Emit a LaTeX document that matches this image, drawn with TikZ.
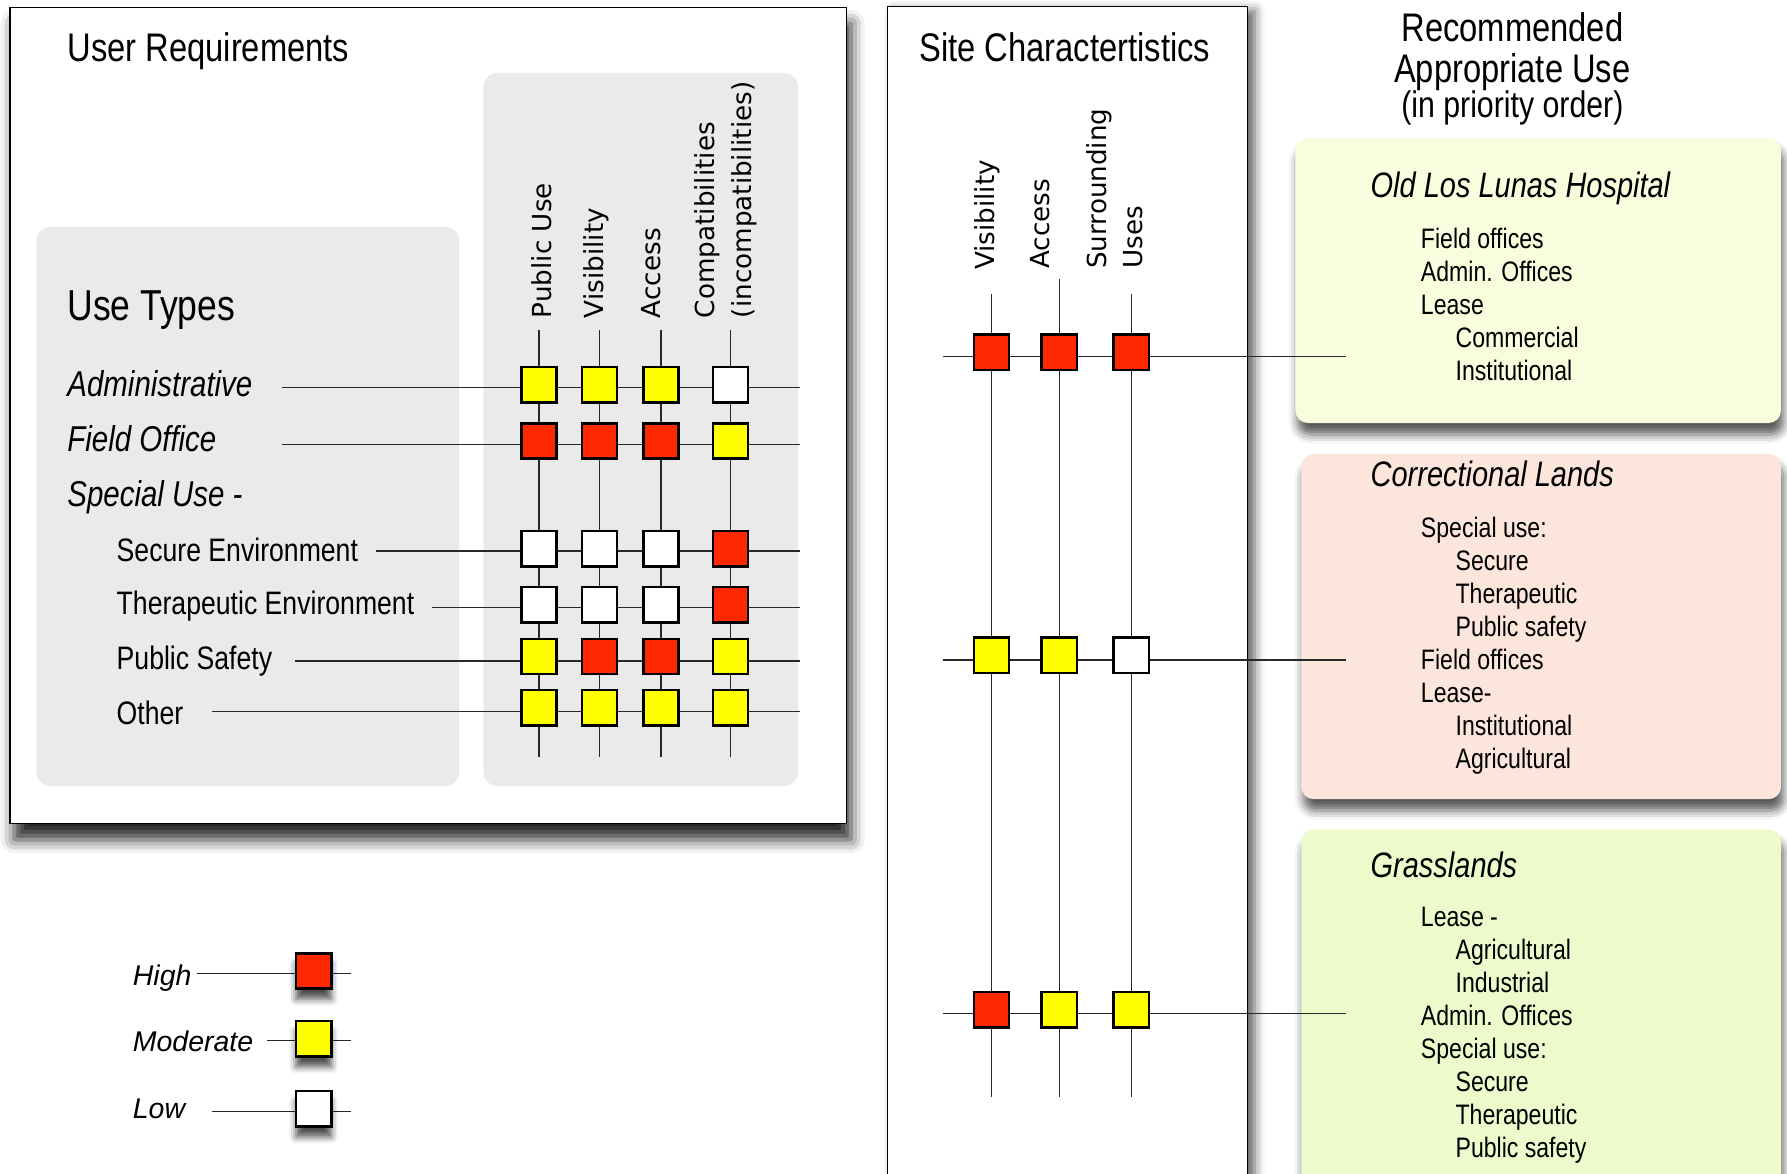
\documentclass[tikz,border=0pt]{standalone}
\usepackage{fontspec}
\setmainfont[FakeStretch=0.82]{Liberation Sans}
\newfontfamily\widefont{DejaVu Sans}
\newfontfamily\legfont{Liberation Sans}
\usetikzlibrary{shadows.blur}
\definecolor{hired}{RGB}{255,40,0}
\definecolor{moyel}{RGB}{255,255,0}
\definecolor{panelgray}{RGB}{234,234,234}
\definecolor{recA}{RGB}{250,252,222}
\definecolor{recB}{RGB}{252,230,219}
\definecolor{recC}{RGB}{237,250,203}
\definecolor{linec}{RGB}{40,40,40}
\begin{document}
\begin{tikzpicture}[x=1pt,y=-1pt,
  bigbox/.style={draw=black, line width=1.3pt, fill=white, inner sep=0pt, anchor=north west},
  panel/.style={fill=panelgray, rounded corners=12pt, inner sep=0pt, anchor=north west},
  recbox/.style={rounded corners=11pt, inner sep=0pt, anchor=north west,
     blur shadow={shadow xshift=2pt, shadow yshift=-10pt, shadow blur radius=8pt, shadow opacity=65}},
  sqbox/.style={draw=black, line width=2.2pt, minimum width=31pt, minimum height=31pt, inner sep=0pt},
  lvlhi/.style={sqbox, fill=hired},
  lvlmo/.style={sqbox, fill=moyel},
  lvllo/.style={sqbox, fill=white},
  legsq/.style={blur shadow={shadow xshift=0pt, shadow yshift=-9pt, shadow blur radius=6pt, shadow opacity=70}},
  conn/.style={draw=linec, line width=1.1pt},
  ttl/.style={font={\fontsize{35}{42}\selectfont}, anchor=base west, inner sep=0pt},
  uttl/.style={font={\fontsize{38}{44}\selectfont}, anchor=base west, inner sep=0pt},
  hdr/.style={font={\fontsize{35}{42}\selectfont}, anchor=base, inner sep=0pt},
  rowit/.style={font={\itshape\fontsize{31.5}{37}\selectfont}, anchor=base west, inner sep=0pt},
  rowrg/.style={font={\fontsize{28.5}{34}\selectfont}, anchor=base west, inner sep=0pt},
  collab/.style={font={\widefont\fontsize{23}{32}\selectfont}, rotate=90, anchor=west, align=left, inner sep=0pt},
  rtitle/.style={font={\itshape\fontsize{31}{37}\selectfont}, anchor=base west, inner sep=0pt},
  rtxt/.style={font={\fontsize{24.7}{29}\selectfont}, anchor=base west, inner sep=0pt},
  legtxt/.style={font={\legfont\itshape\fontsize{25}{30}\selectfont}, anchor=base west, inner sep=0pt}
]
\useasboundingbox (0,0) rectangle (1568,1030);

% ---------- boxes and panels ----------
\node[bigbox, minimum width=734pt, minimum height=716pt,
      blur shadow={shadow xshift=4pt, shadow yshift=-14pt, shadow blur radius=12pt, shadow opacity=85}]
      (ureq) at (8,6) {};
\node[panel, minimum width=371pt, minimum height=490.5pt] (pnlut) at (31.7,198.9) {};
\node[panel, minimum width=276pt, minimum height=625.6pt] (pnlcr) at (424,63.8) {};
\node[bigbox, minimum width=316pt, minimum height=1060pt,
      blur shadow={shadow xshift=6pt, shadow yshift=-4pt, shadow blur radius=9pt, shadow opacity=65}]
      (sitebox) at (778,5) {};
\node[recbox, fill=recA, minimum width=426pt, minimum height=250pt] (boxA) at (1136.5,121) {};
\node[recbox, fill=recB, minimum width=421pt, minimum height=303pt] (boxB) at (1141.6,398) {};
\node[recbox, fill=recC, minimum width=421pt, minimum height=330pt] (boxC) at (1141.6,727.6) {};

% ---------- titles ----------
\node[ttl] (ureqtitle) at (59,54) {User Requirements};
\node[uttl] (usetypes) at (59,281) {Use Types};
\node[ttl] (sitetitle) at (806.6,53.7) {Site Charactertistics};
\node[hdr] (rec1) at (1327,36.5) {Recommended};
\node[hdr] (rec2) at (1327,72.5) {Appropriate Use};
\node[hdr, font={\fontsize{32.4}{38}\selectfont}] (rec3) at (1327,103) {(in priority order)};

% ---------- user requirements grid: connectors ----------
\foreach \c/\x in {1/473,2/526,3/580,4/641}{
  \coordinate (gt-\c) at (\x,289.6);
  \coordinate (gb-\c) at (\x,664);
  \draw[conn] (gt-\c) -- (gb-\c);
}
\foreach \r/\ly/\sx in {adm/340/247, fo/390/247, sec/483.5/330, ther/533/379, ps/580/259, oth/624.5/186}{
  \coordinate (gs-\r) at (\sx,\ly);
  \coordinate (ge-\r) at (701.7,\ly);
  \draw[conn] (gs-\r) -- (ge-\r);
}

% ---------- user requirements grid: labels and squares ----------
\node[collab] (ch-1) at (475.5,279.3) {Public Use};
\node[collab] (ch-2) at (523.3,279.3) {Visibility};
\node[collab] (ch-3) at (571,279.3) {Access};
\node[collab] (ch-4) at (637,279.3) {Compatibilities\\(incompatibilities)};

\node[rowit] (lab-adm) at (59,348) {Administrative};
\node[rowit] (lab-fo) at (59,396) {Field Office};
\node[rowit] (lab-spec) at (59,444) {Special Use -};
\node[rowrg] (lab-sec) at (102.2,492.5) {Secure Environment};
\node[rowrg] (lab-ther) at (102.2,539.6) {Therapeutic Environment};
\node[rowrg] (lab-ps) at (102.2,587.3) {Public Safety};
\node[rowrg] (lab-oth) at (102.2,635.3) {Other};

\foreach \r/\sy/\vals in {
    adm/337.5/{lvlmo,lvlmo,lvlmo,lvllo},
    fo/387/{lvlhi,lvlhi,lvlhi,lvlmo},
    sec/481.5/{lvllo,lvllo,lvllo,lvlhi},
    ther/530.5/{lvllo,lvllo,lvllo,lvlhi},
    ps/576/{lvlmo,lvlhi,lvlhi,lvlmo},
    oth/621/{lvlmo,lvlmo,lvlmo,lvlmo}}{
  \foreach \s [count=\c] in \vals {
    \pgfmathsetmacro{\xx}{{473,526,580,641}[\c-1]}
    \node[\s] (g-\r-\c) at (\xx,\sy) {};
  }
}

% ---------- site characteristics ----------
\foreach \c/\x/\t in {1/870/258,2/929.5/245,3/992.5/258}{
  \coordinate (st-\c) at (\x,\t);
  \coordinate (sb-\c) at (\x,962.6);
  \draw[conn] (st-\c) -- (sb-\c);
}
\foreach \r/\ly in {1/313,2/579,3/889.5}{
  \coordinate (ss-\r) at (827,\ly);
  \coordinate (se-\r) at (1181,\ly);
  \draw[conn] (ss-\r) -- (se-\r);
}

\node[collab] (sh-1) at (866.5,237) {Visibility};
\node[collab] (sh-2) at (913,236) {Access};
\node[collab] (sh-3) at (978,236) {Surrounding\\Uses};

\foreach \r/\sy/\vals in {
    1/309/{lvlhi,lvlhi,lvlhi},
    2/575/{lvlmo,lvlmo,lvllo},
    3/886/{lvlhi,lvlmo,lvlmo}}{
  \foreach \s [count=\c] in \vals {
    \pgfmathsetmacro{\xx}{{870,929.5,992.5}[\c-1]}
    \node[\s] (s-\r-\c) at (\xx,\sy) {};
  }
}

% ---------- recommended boxes ----------
\node[rtitle] (tA) at (1202.5,172.9) {Old Los Lunas Hospital};
\node[rtitle] (tB) at (1202.5,426.5) {Correctional Lands};
\node[rtitle] (tC) at (1202.5,769.8) {Grasslands};

\foreach \bx/\by/\items in {
    A/218.3/{0/Field offices,0/Admin. Offices,0/Lease,1/Commercial,1/Institutional},
    B/471.8/{0/Special use:,1/Secure,1/Therapeutic,1/Public safety,0/Field offices,0/Lease-,1/Institutional,1/Agricultural},
    C/813/{0/Lease -,1/Agricultural,1/Industrial,0/Admin. Offices,0/Special use:,1/Secure,1/Therapeutic,1/Public safety}}{
  \foreach \ind/\t [count=\i from 0] in \items {
    \node[rtxt] (b\bx-\i) at (1246.6+30.4*\ind, \by+28.9*\i) {\t};
  }
}

% ---------- legend ----------
\coordinate (ls-hi) at (173.1,854.3);
\coordinate (le-hi) at (307.7,854.3);
\coordinate (ls-mo) at (234,913);
\coordinate (le-mo) at (307.7,913);
\coordinate (ls-lo) at (185.7,975.4);
\coordinate (le-lo) at (307.7,975.4);
\draw[conn] (ls-hi) -- (le-hi);
\draw[conn] (ls-mo) -- (le-mo);
\draw[conn] (ls-lo) -- (le-lo);
\node[legtxt] (lt-hi) at (116.4,865.1) {High};
\node[legtxt] (lt-mo) at (116.4,922.8) {Moderate};
\node[legtxt] (lt-lo) at (116.4,981.3) {Low};
\node[lvlhi, legsq] (leg-hi) at (275.2,852) {};
\node[lvlmo, legsq] (leg-mo) at (275.2,911.4) {};
\node[lvllo, legsq] (leg-lo) at (275.2,973) {};
\end{tikzpicture}
\end{document}
